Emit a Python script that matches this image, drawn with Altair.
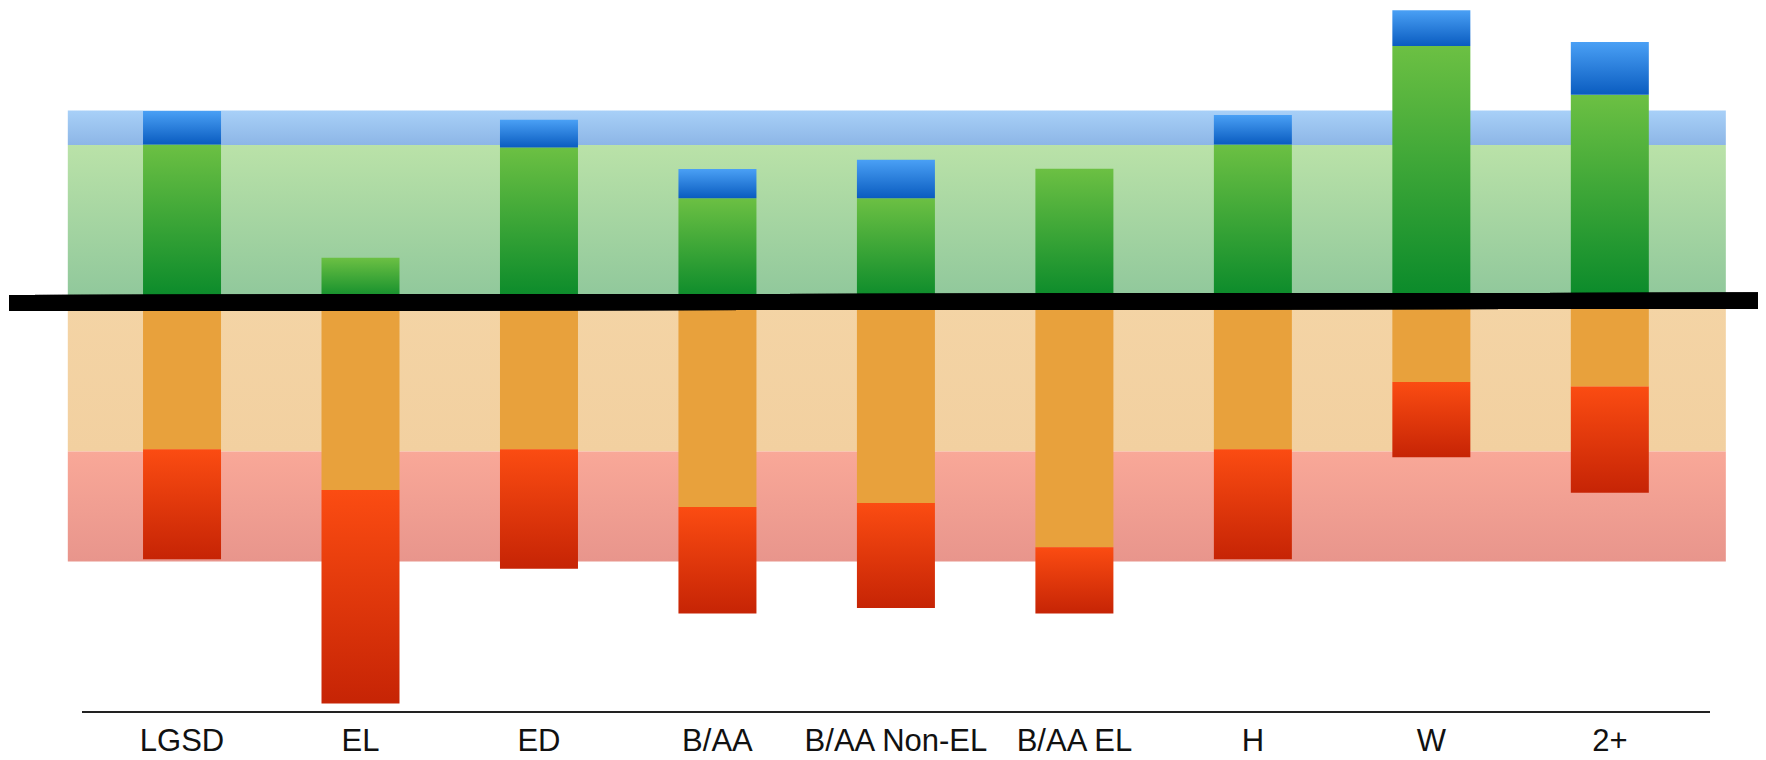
import altair as alt
import pandas as pd

# ---- data (percent of students in each level) ----
categories = ["LGSD", "EL", "ED", "B/AA", "B/AA Non-EL", "B/AA EL", "H", "W", "2+"]
blue   = [7.5, 0.0, 6.2, 6.5, 8.6, 0.0, 6.6, 8.0, 11.8]
green  = [35.2, 9.9, 34.5, 23.2, 23.2, 29.8, 35.2, 57.2, 46.3]
orange = [32.9, 42.0, 32.9, 45.8, 44.9, 54.8, 32.9, 17.9, 18.9]
red    = [24.6, 47.7, 26.7, 23.8, 23.5, 14.8, 24.6, 16.8, 23.7]

# reference (background) bands
band_levels = ["blue", "green", "orange", "red"]
band_values = [7.7, 35.1, 33.4, 24.6]

# ---- layout ----
W, H = 1750, 750
PX_PER_PCT = 4.475
ZERO_PX = 294            # zero line, from top of plot
STEP_PX = 179.5
FIRST_PX = 170.0

x_scale = alt.Scale(domain=[-FIRST_PX / STEP_PX, (W - FIRST_PX) / STEP_PX], nice=False, zero=False)
y_scale = alt.Scale(domain=[-(H - ZERO_PX) / PX_PER_PCT, ZERO_PX / PX_PER_PCT], nice=False, zero=False)

df = pd.DataFrame({"cat": categories, "blue": blue, "green": green, "orange": orange, "red": red})
df["slot"] = range(len(categories))
df["g0"] = 0.0
df["g1"] = df["green"]
df["b0"] = df["green"]
df["b1"] = df["green"] + df["blue"]
df["o0"] = 0.0
df["o1"] = -df["orange"]
df["r0"] = -df["orange"]
df["r1"] = -df["orange"] - df["red"]

bv = dict(zip(band_levels, band_values))
bands = pd.DataFrame({
    "level": band_levels,
    "y0": [bv["green"], 0.0, 0.0, -bv["orange"]],
    "y1": [bv["green"] + bv["blue"], bv["green"], -bv["orange"], -bv["orange"] - bv["red"]],
})


def grad(top, bottom):
    return alt.Gradient(
        gradient="linear",
        stops=[alt.GradientStop(color=top, offset=0), alt.GradientStop(color=bottom, offset=1)],
        x1=0, x2=0, y1=0, y2=1,
    )


band_fill = {
    "blue": grad("#a8d0f8", "#8db6e6"),
    "green": grad("#bae2a8", "#8fc79b"),
    "orange": grad("#f4d4a5", "#f2d0a0"),
    "red": grad("#f9a898", "#e8958c"),
}

band_layers = []
for lvl in band_levels:
    band_layers.append(
        alt.Chart(bands).transform_filter(alt.datum.level == lvl).mark_rect(fill=band_fill[lvl]).encode(
            x=alt.XDatum(datum=-0.64, type="quantitative", scale=x_scale, axis=None),
            x2=alt.X2Datum(datum=8.65),
            y=alt.Y("y0:Q", scale=y_scale, axis=None),
            y2="y1:Q",
        )
    )

bar_specs = [
    ("g0", "g1", grad("#6cc043", "#08892a")),
    ("b0", "b1", grad("#4aa0f5", "#0a5cc0")),
    ("o0", "o1", "#e8a13c"),
    ("r0", "r1", grad("#fb4c12", "#c62405")),
]
bar_layers = []
for a, b, fill in bar_specs:
    bar_layers.append(
        alt.Chart(df).mark_bar(size=78, fill=fill).encode(
            x=alt.X("slot:Q", scale=x_scale, axis=None),
            y=alt.Y(f"{a}:Q", scale=y_scale, axis=None),
            y2=f"{b}:Q",
        )
    )

zero_line = alt.Chart(df).mark_rule(color="#000000", strokeWidth=16, strokeCap="butt").encode(
    x=alt.value(1),
    x2=alt.value(W),
    y=alt.YDatum(datum=-0.22, type="quantitative", scale=y_scale, axis=None),
    y2=alt.Y2Datum(datum=0.3),
)

axis_line = alt.Chart(df).mark_rule(color="#222222", strokeWidth=2.2).encode(
    x=alt.XDatum(datum=-0.56, type="quantitative", scale=x_scale, axis=None),
    x2=alt.X2Datum(datum=8.56),
    y=alt.YDatum(datum=-91.62, type="quantitative", scale=y_scale, axis=None),
)

labels = alt.Chart(df).mark_text(
    font="Liberation Sans", fontSize=31, color="#111111", baseline="bottom", align="center"
).encode(
    x=alt.X("slot:Q", scale=x_scale, axis=None),
    y=alt.value(H),
    text="cat:N",
)

chart = alt.layer(*band_layers, *bar_layers, zero_line, axis_line, labels).properties(
    width=W, height=H, padding=0, autosize=alt.AutoSizeParams(type="none")
).configure_view(stroke=None)

chart.save("out.html", embed_options={"renderer": "svg", "actions": False})
